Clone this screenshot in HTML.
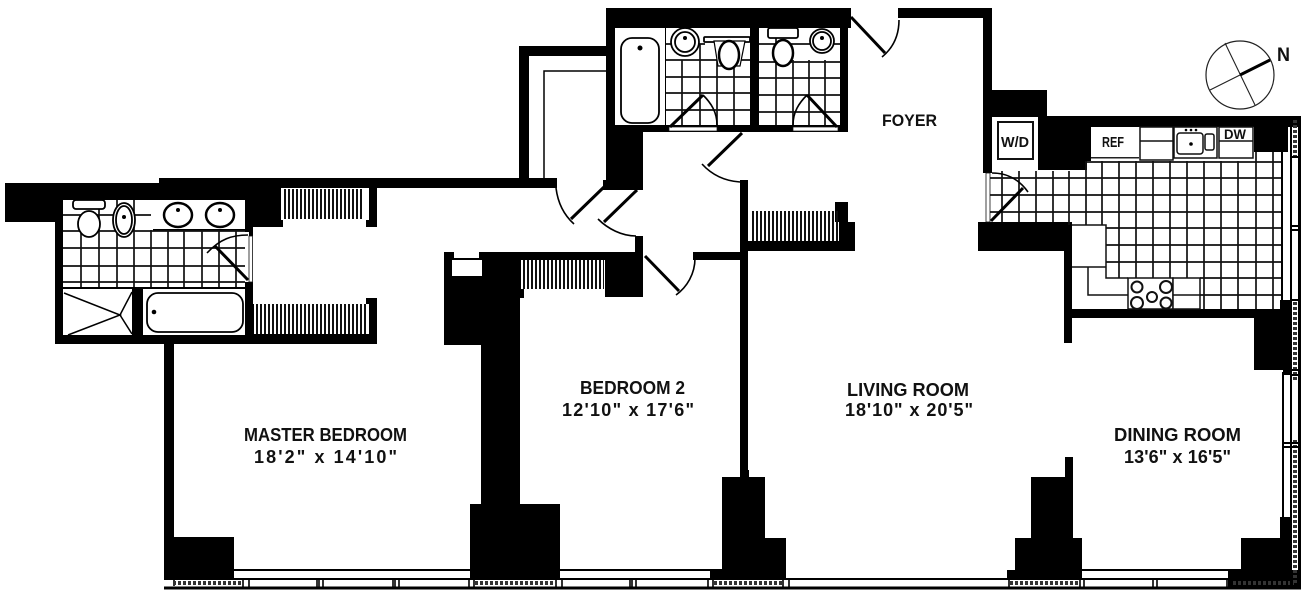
<!DOCTYPE html>
<html><head><meta charset="utf-8"><style>
html,body{margin:0;padding:0;background:#fff}
svg{display:block}
text{font-family:"Liberation Sans",sans-serif;font-weight:bold;fill:#111}
</style></head><body>
<svg width="1311" height="600" viewBox="0 0 1311 600" xmlns="http://www.w3.org/2000/svg">
<rect width="1311" height="600" fill="#fff"/>

<!-- WHITE FIXTURE AREAS -->
<g fill="#fff">
<rect x="153" y="199" width="92" height="30"/>
<rect x="1072" y="225" width="34" height="42"/>
<rect x="1072" y="267" width="56" height="42"/>
<rect x="1128" y="278" width="72" height="31"/>
</g>

<!-- BLACK WALLS -->
<g fill="#000">
<path d="M5 183H159V178H557V188H377V227H366V220H369V188H281V220H283V227H253V236H249V232H245V200H63V335H245V287H249V304H254V334H369V304H366V298H377V344H174V570H164V344H55V222H5Z"/>
<rect x="132" y="287" width="11" height="48"/>
<rect x="63" y="287" width="182" height="2"/>
<rect x="245" y="282" width="8" height="62"/>
<rect x="153" y="229" width="92" height="2"/>
<rect x="164" y="537" width="70" height="42"/>
<!-- upper baths block -->
<path d="M519 46H606V8H851V28H848V132H643V190H603V180H606V56H529V180H519Z"/>
<!-- bedroom 2 wall -->
<path d="M444 252H454V258H479V252H635V236H643V297H605V289H524V298H520V504H560V579H470V504H481V345H444Z"/>
<!-- vertical living wall & closet -->
<path d="M740 180H748V241H839V222H835V202H848V222H855V251H748V470H749V477H765V538H786V579H710V569H722V477H740Z"/>
<rect x="693" y="252" width="55" height="8"/>
<!-- foyer wall -->
<path d="M898 8H992V90H1047V116H1301V127H1288V152H1254V127H1091V161H1087V170H1038V127H992V173H983V18H898Z"/>
<path d="M978 222H1072V343H1064V251H978Z"/>
<path d="M1064 309H1280V300H1290V375H1283V370H1254V318H1064Z"/>
<path d="M1065 457H1073V538H1082V579H1007V570H1015V538H1031V477H1065Z"/>
<path d="M1280 517H1290V570H1298V589H1228V569H1241V538H1280Z"/>
</g>

<!-- Room white interiors -->
<g fill="#fff">
<rect x="615" y="28" width="50" height="97"/>
<rect x="666" y="28" width="84" height="97"/>
<rect x="759" y="28" width="81" height="97"/>
<rect x="992" y="117" width="46" height="50"/>
<rect x="1091" y="127" width="48" height="30"/>
<rect x="452" y="260" width="30" height="16"/>
<rect x="521" y="260" width="84" height="29"/>
</g>
<rect x="452" y="258" width="30" height="2" fill="#000"/>
<rect x="1091" y="157" width="48" height="1.5" fill="#222"/>

<!-- TILE GRIDS -->
<g stroke="#111" stroke-width="1.7" fill="none">
<path d="M81 215V287M99 200V287M117 200V287M134 200V287M151 230V287M168 230V287M184 230V287M202 230V287M219 230V287M236 230V287M63 215H151M63 231H245M63 248H245M63 266H245M63 282H245"/>
<path d="M682 60V125M700 60V125M717 60V125M734 60V125M666 60H750M666 77H750M666 93H750M666 110H750M700 44V60M666 44H705"/>
<path d="M776 28V125M793 60V125M809 60V125M825 60V125M759 44H840M759 62H840M759 78H840M759 95H840M759 112H840"/>
<path d="M1002 171V222M1019 171V222M1036 171V222M1053 171V222M1069 171V225M1086 161V225M1102 161V225M1119 161V278M1136 161V278M1153 161V278M1170 161V278M1187 161V278M1204 161V309M1221 161V309M1238 161V309M1256 152V309M1273 152V309M990 178H1281M990 195H1281M990 212H1281M1106 228H1281M1106 245H1281M1106 262H1281M1200 278H1281M1200 295H1281M1087 162H1281"/>
</g>

<!-- closets hatch -->
<g stroke="#111" fill="none" stroke-dasharray="2 2">
<line x1="284" y1="204" x2="364" y2="204" stroke-width="30"/>
<line x1="256" y1="319" x2="366" y2="319" stroke-width="30"/>
<line x1="523" y1="274.500" x2="604" y2="274.500" stroke-width="29"/>
<line x1="752" y1="226" x2="838" y2="226" stroke-width="30"/>
</g>

<!-- Bottom windows -->
<g stroke="#000" fill="none">
<path stroke-width="2" d="M234 570H470M560 570H710M1082 570H1228"/>
<path stroke-width="2" d="M164 579H1298"/>
<path stroke-width="3" d="M164 588H1301"/>
<path stroke-width="1.600" d="M174 580V586M243 580V587M249 580V587M317 580V587M319 580V587M323 580V587M393 580V587M395 580V587M399 580V587M469 580V587M474 580V587M556 580V587M562 580V587M630 580V587M632 580V587M636 580V587M708 580V587M713 580V587M783 580V587M789 580V587M1009 580V587M1080 580V587M1084 580V587M1153 580V587M1157 580V587M1227 580V587M1231 580V587"/>
<g stroke-width="4" stroke-dasharray="3 2" stroke="#333">
<path d="M173 583H243M475 583H556M714 583H783M1010 583H1079M1233 583H1294"/>
<path d="M1295 120V156M1295 302V380M1295 440V585"/>
</g>
</g>
<!-- Right windows -->
<g stroke="#000" fill="none">
<path stroke-width="3" d="M1299.500 116V589"/>
<path stroke-width="2" d="M1282 152V300M1283 372V517"/>
<path stroke-width="2" d="M1291 127V589"/>
<path stroke-width="2" d="M1291 157H1299M1291 226H1299M1291 230H1299M1283 443H1299M1283 447H1299M1291 300H1299M1291 370H1299M1291 375H1299"/>
</g>

<!-- Door sills -->
<g fill="#fff" stroke="#111" stroke-width=".7">
<rect x="669" y="127" width="48" height="4"/>
<rect x="793" y="127" width="45" height="4"/>
</g>
<rect x="986" y="173" width="4" height="49" fill="#fff" stroke="#111" stroke-width=".8"/>
<rect x="249" y="236" width="3.500" height="46" fill="#fff" stroke="#111" stroke-width=".8"/>

<!-- Door leaves and swings -->
<g stroke="#000" fill="none" stroke-width="3">
<path d="M604 187L571 219"/>
<path d="M637 190L604 222"/>
<path d="M645 256L679 291"/>
<path d="M742 133L708 166"/>
<path d="M851 17L885 53"/>
<path d="M991 221L1023 188"/>
<path d="M248 280L215 246"/>
<path d="M670 127L703 95"/>
<path d="M837 127L807 95"/>
</g>
<g stroke="#000" fill="none" stroke-width="1.600">
<path d="M556 188C558 204 565 216 574 224"/>
<path d="M598 219C608 229 622 236 636 236"/>
<path d="M695 258C695 274 687 287 676 295"/>
<path d="M702 164C712 175 725 181 740 182"/>
<path d="M899 20C899 36 893 48 882 57"/>
<path d="M992 173C1006 173 1018 178 1028 192"/>
<path d="M248 235C232 235 220 239 207 253"/>
<path d="M703 95C711 103 717 112 717 125"/>
<path d="M807 95C799 103 793 112 793 125"/>
<path d="M544 180V71H606" stroke-width="1.500"/>
</g>

<!-- Master bath fixtures -->
<g fill="#fff" stroke="#000" stroke-width="1.800">
<rect x="73" y="200" width="32" height="9" rx="3"/>
<ellipse cx="89" cy="224" rx="11" ry="13"/>
<ellipse cx="124" cy="220" rx="11" ry="17"/>
<ellipse cx="124" cy="220" rx="8" ry="14"/>
<ellipse cx="178" cy="215" rx="14" ry="12" stroke-width="2.500"/>
<ellipse cx="220" cy="215" rx="14" ry="12" stroke-width="2.500"/>
<rect x="147" y="293" width="96" height="39" rx="11"/>
<path d="M63 293L132 291V335H63Z" stroke="none"/>
</g>
<g fill="none" stroke="#000" stroke-width="1.500">
<path d="M64 293L120 315L68 335M120 315L132 292M120 315L132 334"/>
</g>
<g fill="#000">
<circle cx="124" cy="217" r="2"/><circle cx="178" cy="210" r="2"/><circle cx="220" cy="210" r="2"/><circle cx="154" cy="312" r="2.300"/>
</g>

<!-- Upper bath fixtures -->
<g fill="#fff" stroke="#000" stroke-width="1.800">
<circle cx="685" cy="42" r="14"/>
<circle cx="685" cy="42" r="10"/>
<rect x="704" y="37" width="46" height="5" rx="1"/>
<path d="M714 41H745L740 66H718Z" stroke-width="1.200"/>
<ellipse cx="729" cy="55" rx="10" ry="14" stroke-width="2.500"/>
<rect x="621" y="38" width="38" height="85" rx="11"/>
<rect x="768" y="28" width="30" height="10" rx="2"/>
<ellipse cx="783" cy="53" rx="10" ry="13" stroke-width="2.500"/>
<circle cx="822" cy="41" r="12"/>
<circle cx="822" cy="41" r="9"/>
</g>
<circle cx="640" cy="48" r="2.500" fill="#000"/><circle cx="685" cy="38" r="2" fill="#000"/><circle cx="822" cy="38" r="2" fill="#000"/>

<!-- Kitchen fixtures -->
<g fill="#fff" stroke="#111" stroke-width="1.500">
<rect x="998" y="122" width="35" height="37" stroke-width="2"/>
<rect x="1140" y="127" width="33" height="33"/>
<rect x="1174" y="127" width="43" height="31"/>
<rect x="1177" y="133" width="26" height="21" rx="3"/>
<rect x="1205" y="134" width="9" height="16" rx="2"/>
<rect x="1219" y="127" width="34" height="31"/>
<rect x="1128" y="278" width="45" height="31"/>
<rect x="1173" y="278" width="27" height="31"/>
<circle cx="1137" cy="287" r="5.500" stroke-width="2"/>
<circle cx="1166" cy="287" r="6" stroke-width="2"/>
<circle cx="1152" cy="297" r="5" stroke-width="2"/>
<circle cx="1137" cy="303" r="6" stroke-width="2"/>
<circle cx="1166" cy="303" r="5.500" stroke-width="2"/>
</g>
<g stroke="#111" stroke-width="1.500" fill="none">
<path d="M1140 141H1173M1219 141H1253M1173 295H1200M1128 295H1088V267M1072 267H1106V225H1072M1106 225V278H1128"/>
</g>
<circle cx="1191" cy="130" r="1.300" fill="#000"/><circle cx="1196" cy="130" r="1.300" fill="#000"/><circle cx="1186" cy="130" r="1.300" fill="#000"/><circle cx="1191" cy="144" r="1.800" fill="#000"/>

<!-- Compass -->
<g fill="none" stroke="#222">
<circle cx="1240" cy="75" r="34" stroke-width="1.200"/>
<path d="M1225 43L1255 105M1210 90L1240 75" stroke-width="1.100"/>
<path d="M1240 75L1270 60" stroke-width="3" stroke="#000"/>
</g>
<text x="1277" y="61" font-size="19" textLength="13" lengthAdjust="spacingAndGlyphs">N</text>

<!-- Labels -->
<text x="244" y="441" font-size="18" textLength="163" lengthAdjust="spacingAndGlyphs">MASTER BEDROOM</text>
<text x="254" y="463" font-size="18" textLength="143" lengthAdjust="spacing">18'2" x 14'10"</text>
<text x="580" y="394" font-size="18" textLength="105" lengthAdjust="spacingAndGlyphs">BEDROOM 2</text>
<text x="562" y="416" font-size="18" textLength="132" lengthAdjust="spacing">12'10" x 17'6"</text>
<text x="847" y="396" font-size="18" textLength="122" lengthAdjust="spacingAndGlyphs">LIVING ROOM</text>
<text x="845" y="416" font-size="18" textLength="128" lengthAdjust="spacing">18'10" x 20'5"</text>
<text x="1114" y="441" font-size="18" textLength="127" lengthAdjust="spacingAndGlyphs">DINING ROOM</text>
<text x="1124" y="463" font-size="18" textLength="107" lengthAdjust="spacing">13'6" x 16'5"</text>
<text x="882" y="126" font-size="17" textLength="55" lengthAdjust="spacingAndGlyphs">FOYER</text>
<text x="1001" y="147" font-size="15" textLength="28" lengthAdjust="spacingAndGlyphs">W/D</text>
<text x="1102" y="147" font-size="15" textLength="22" lengthAdjust="spacingAndGlyphs">REF</text>
<text x="1224" y="139" font-size="14" textLength="22" lengthAdjust="spacingAndGlyphs">DW</text>
</svg>
</body></html>
